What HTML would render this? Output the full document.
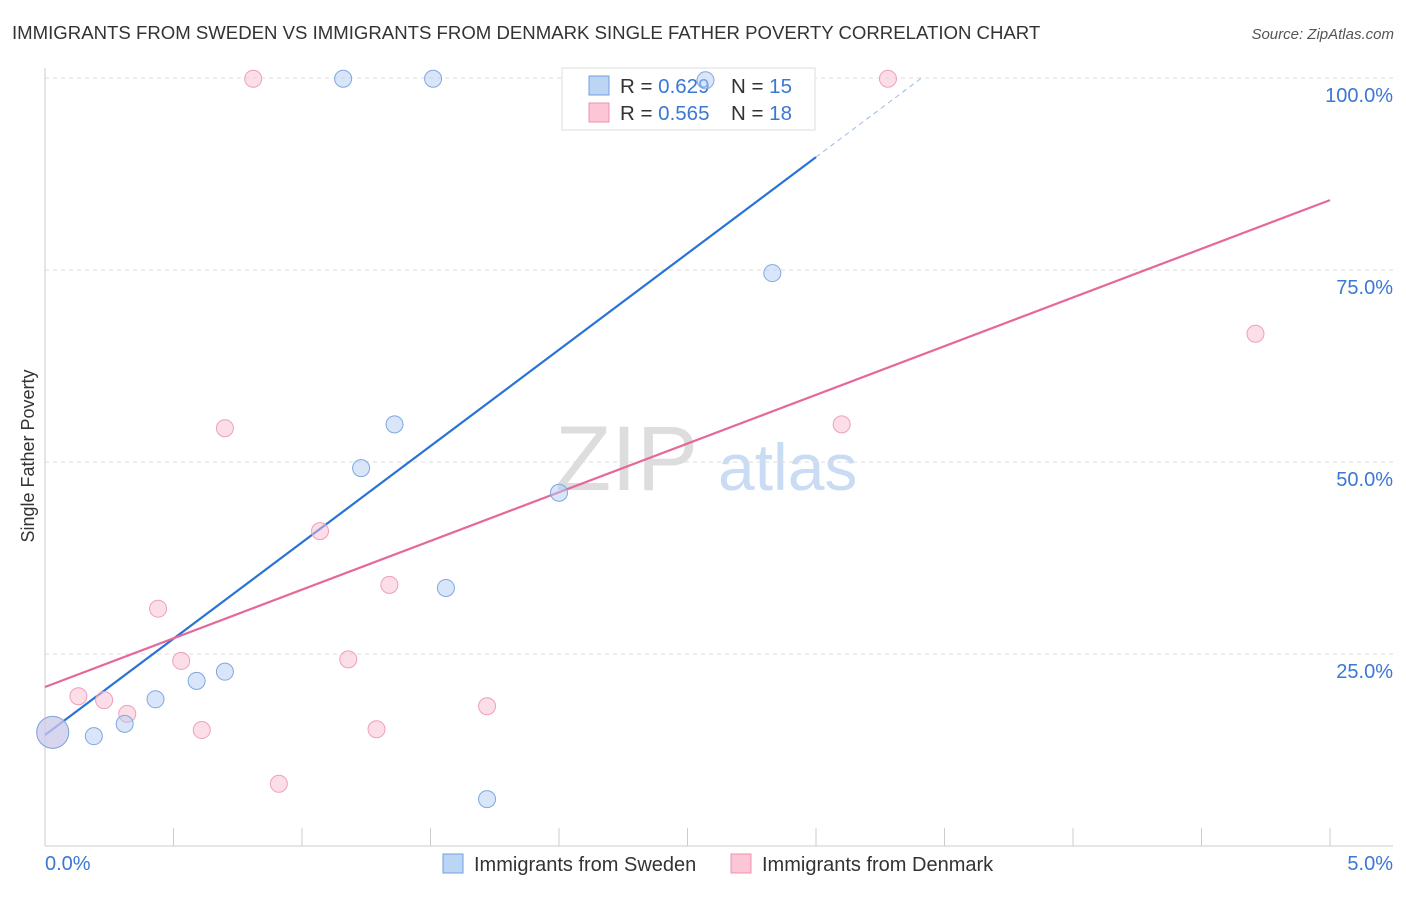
<!DOCTYPE html>
<html><head><meta charset="utf-8"><style>
body{margin:0;background:#fff;font-family:"Liberation Sans",sans-serif;}
svg text{font-family:"Liberation Sans",sans-serif;}
</style></head><body>
<svg id="c" width="1406" height="892" xmlns="http://www.w3.org/2000/svg">
<text x="12" y="39" font-size="18.6" fill="#333">IMMIGRANTS FROM SWEDEN VS IMMIGRANTS FROM DENMARK SINGLE FATHER POVERTY CORRELATION CHART</text>
<text x="1394" y="39" font-size="15" fill="#555" font-style="italic" text-anchor="end">Source: ZipAtlas.com</text>
<text x="34" y="456" font-size="18" fill="#333" text-anchor="middle" transform="rotate(-90 34 456)">Single Father Poverty</text>
<text x="555" y="490" font-size="92" fill="#ddd" font-family="Liberation Serif">ZIP</text>
<text x="718" y="490" font-size="66" fill="#c9dcf3">atlas</text>
<g id="grid"></g><g id="lines"></g>
<g>
<rect x="562" y="68" width="253" height="62" fill="#fff" stroke="#ddd"/>
<rect x="589" y="76" width="20" height="19" fill="#bcd5f5" stroke="#6fa0e0"/>
<rect x="589" y="103" width="20" height="19" fill="#fcc6d6" stroke="#ee93b0"/>
<text x="620" y="93" font-size="20.5" fill="#333">R = <tspan fill="#3a78d4">0.629</tspan><tspan x="731">N = </tspan><tspan fill="#3a78d4">15</tspan></text>
<text x="620" y="120" font-size="20.5" fill="#333">R = <tspan fill="#3a78d4">0.565</tspan><tspan x="731">N = </tspan><tspan fill="#3a78d4">18</tspan></text>
</g>
<g id="pts"></g>
<g>
<rect x="443" y="854" width="20" height="19" fill="#bcd5f5" stroke="#6fa0e0"/>
<text x="474" y="871" font-size="20" fill="#333">Immigrants from Sweden</text>
<rect x="731" y="854" width="20" height="19" fill="#fcc6d6" stroke="#ee93b0"/>
<text x="762" y="871" font-size="20" fill="#333">Immigrants from Denmark</text>
</g>
</svg>
<script>
const yTicks=[25,50,75,100];
const yTickLabels=["25.0%","50.0%","75.0%","100.0%"];
const xTickLabels=["0.0%","5.0%"];
const swedenX=[0.03,0.19,0.31,0.43,0.59,0.70,1.16,1.51,1.23,1.36,1.56,1.72,2.00,2.57,2.83];
const swedenY=[14.8,14.3,15.9,19.1,21.5,22.7,99.9,99.9,49.2,54.9,33.6,6.1,46.0,99.7,74.6];
const denmarkX=[0.03,0.13,0.23,0.32,0.44,0.53,0.61,0.70,0.81,0.91,1.07,1.18,1.29,1.34,1.72,3.10,3.28,4.71];
const denmarkY=[14.8,19.5,19.0,17.2,30.9,24.1,15.1,54.4,99.9,8.1,41.0,24.3,15.2,34.0,18.2,54.9,99.9,66.7];
const swedenFit=[14.45,89.7];   // y at x=0, y at x=3
const denmarkFit=[20.7,84.1];   // y at x=0, y at x=5
const X=v=>45+v*257, Y=v=>846-v*7.68;
const NS="http://www.w3.org/2000/svg";
function mk(tag,attrs,parent){const e=document.createElementNS(NS,tag);for(const k in attrs)e.setAttribute(k,attrs[k]);document.getElementById(parent).appendChild(e);return e;}
yTicks.forEach((t,i)=>{
 const l=mk('line',{x1:45,x2:1393,y1:Y(t),y2:Y(t),stroke:'#ddd','stroke-dasharray':'4,4'},'grid');
 
 
 const tx=mk('text',{x:1393,y:Y(t)+24,'font-size':20,fill:'#3a78d4','text-anchor':'end'},'grid');tx.textContent=yTickLabels[i];
 
 
});
const ax=mk('line',{x1:45,x2:45,y1:68,y2:846,stroke:'#ccc'},'grid');


const bx=mk('line',{x1:45,x2:1393,y1:846,y2:846,stroke:'#ccc'},'grid');


for(let i=0;i<=10;i++){const t=mk('line',{x1:X(i*0.5),x2:X(i*0.5),y1:828,y2:846,stroke:'#ccc'},'grid');
 
 }
[[0,'start',45],[5,'end',1393]].forEach((d,i)=>{const t=mk('text',{x:d[2],y:870,'font-size':20,fill:'#3a78d4','text-anchor':d[1]},'grid');t.textContent=xTickLabels[i];
 
 });
const bl=mk('line',{x1:X(0),y1:Y(swedenFit[0]),x2:X(3),y2:Y(swedenFit[1]),stroke:'#2a72d8','stroke-width':2.2},'lines');


const s=(swedenFit[1]-swedenFit[0])/3, xe=(100-swedenFit[0])/s;
const bd=mk('line',{x1:X(3),y1:Y(swedenFit[1]),x2:X(xe),y2:Y(100),stroke:'#9bbbe8','stroke-width':1,'stroke-dasharray':'5,4'},'lines');


const pl=mk('line',{x1:X(0),y1:Y(denmarkFit[0]),x2:X(5),y2:Y(denmarkFit[1]),stroke:'#e5689a','stroke-width':2.2},'lines');


denmarkX.forEach((x,i)=>{const c=mk('circle',{cx:X(x),cy:Y(denmarkY[i]),r:i==0?16:8.5,fill:'rgba(250,190,210,0.5)',stroke:'#eea0ba','stroke-width':1},'pts');
 
 });
swedenX.forEach((x,i)=>{const c=mk('circle',{cx:X(x),cy:Y(swedenY[i]),r:i==0?16:8.5,fill:'rgba(180,205,245,0.5)',stroke:'#7fa8e0','stroke-width':1},'pts');
 
 });
</script>
</body></html>
